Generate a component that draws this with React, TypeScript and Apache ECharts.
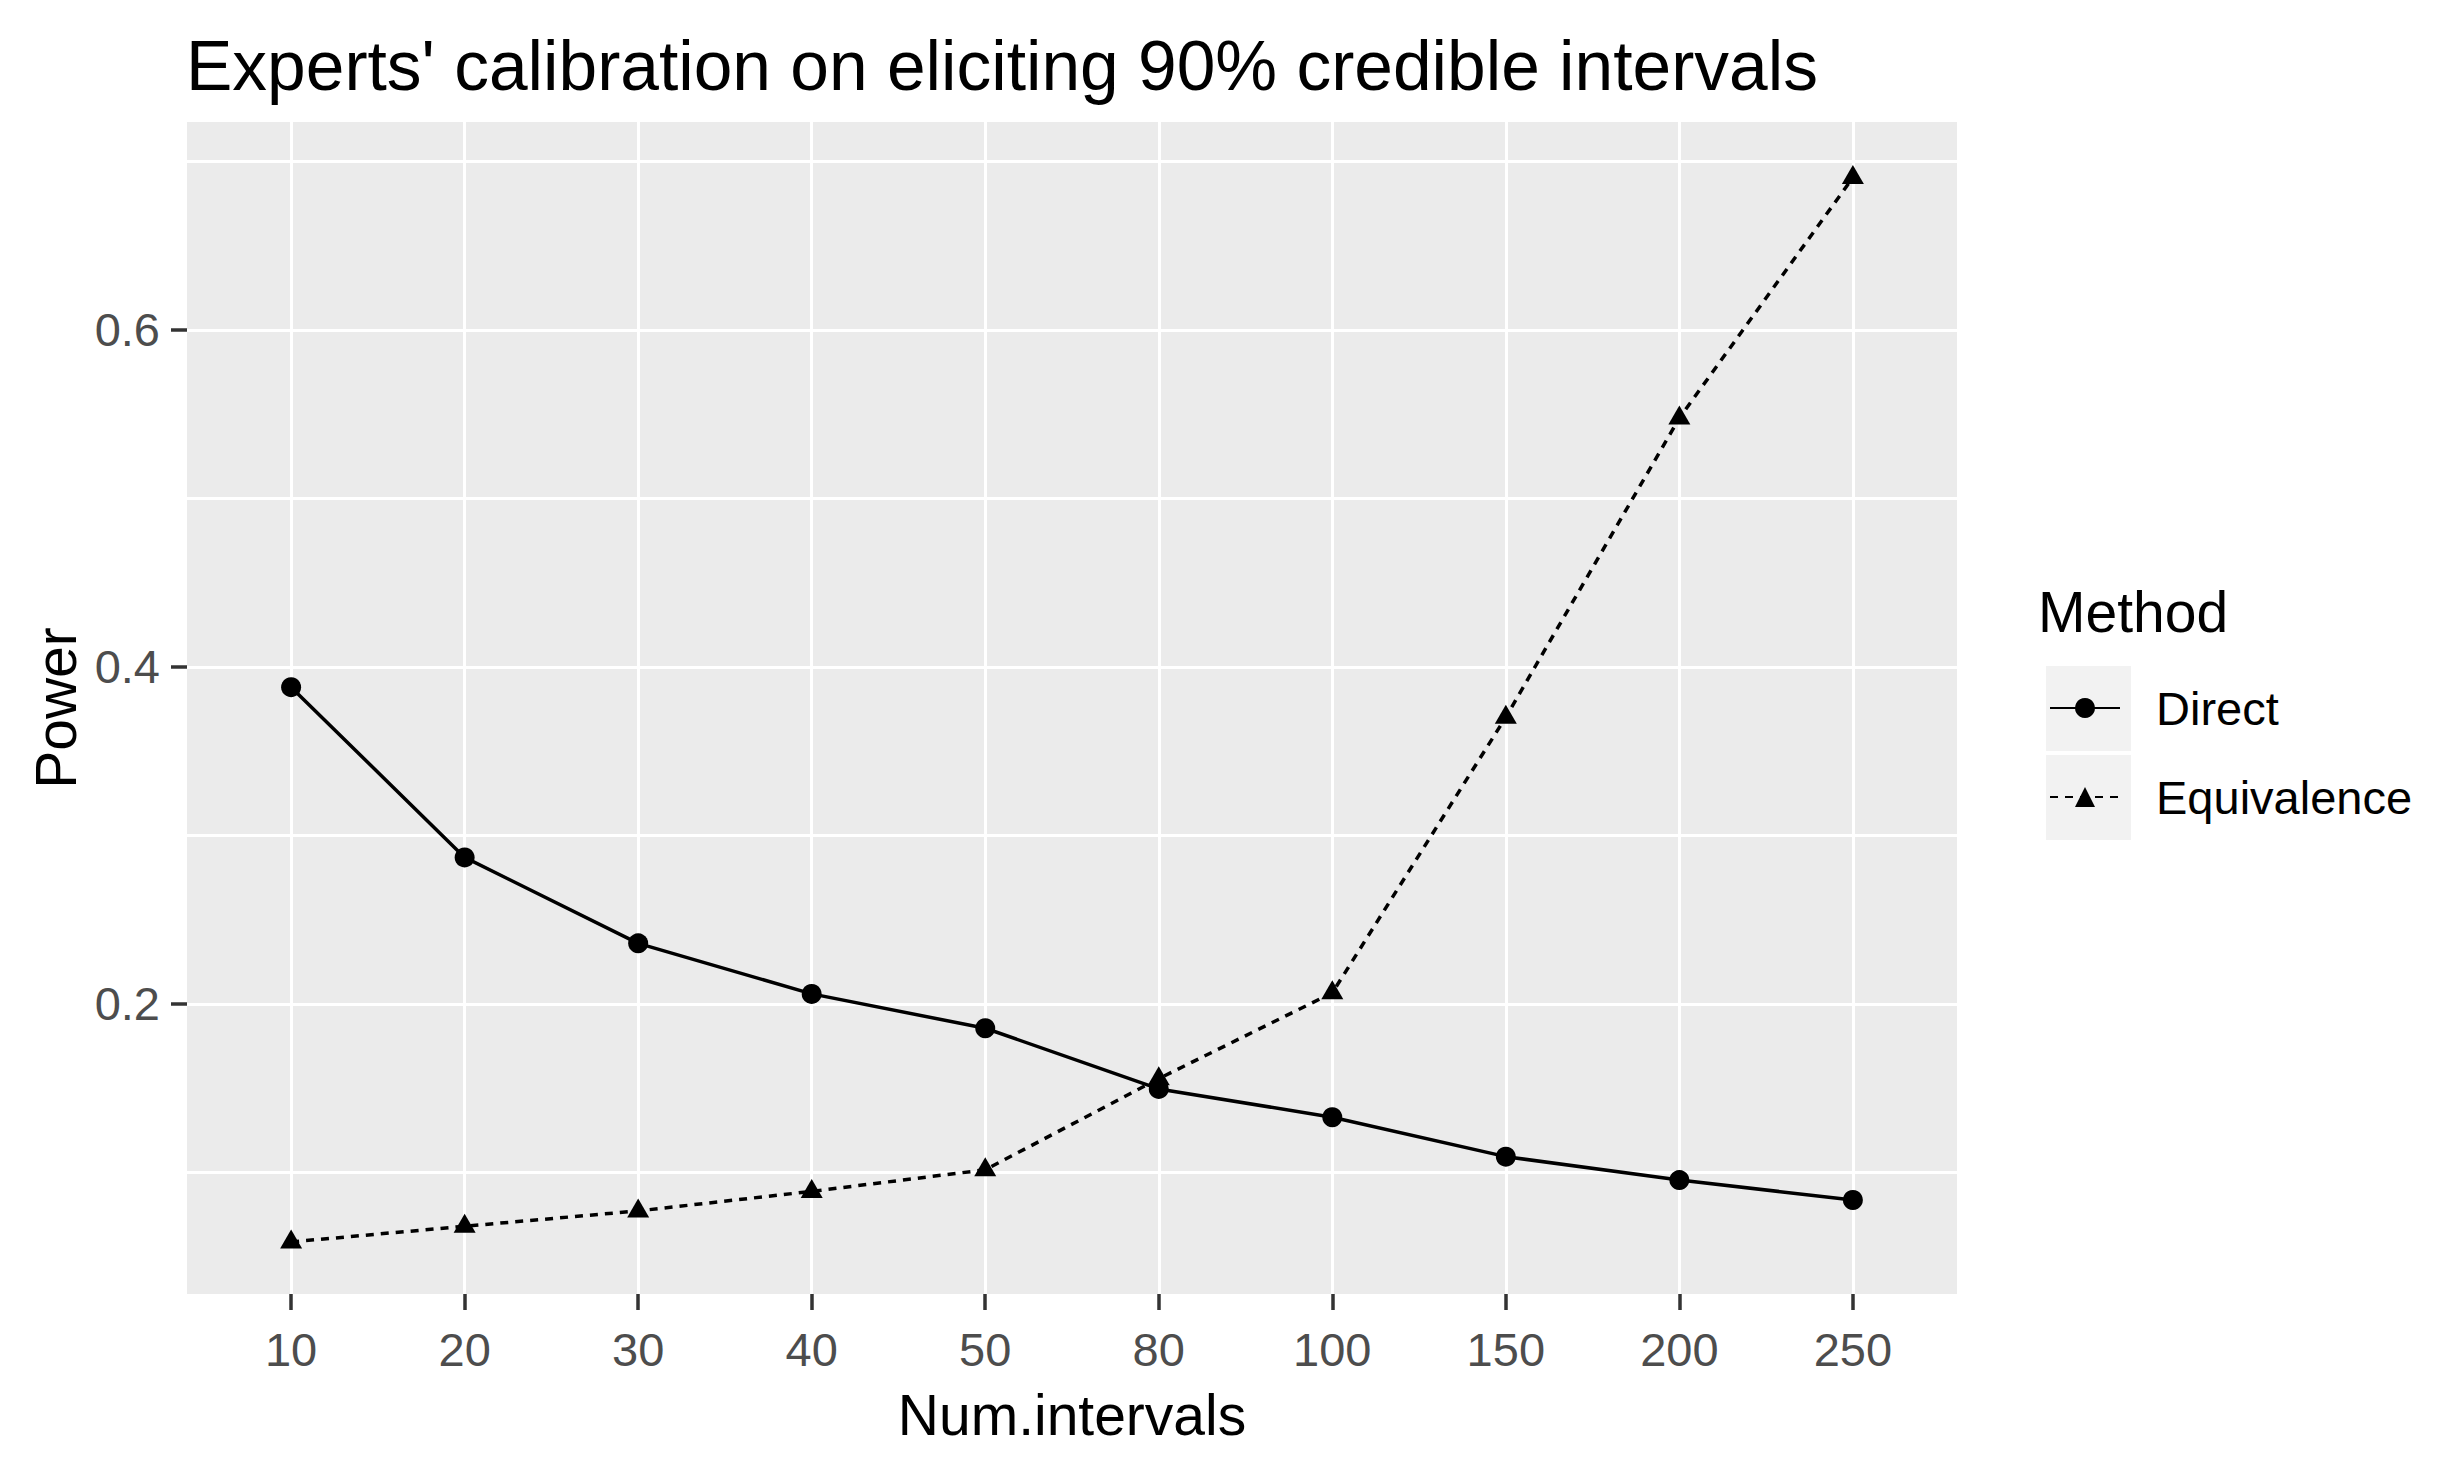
import React, { useEffect, useRef } from 'react';
import * as echarts from 'echarts';

const categories = ['10', '20', '30', '40', '50', '80', '100', '150', '200', '250'];
const directValues = [0.388, 0.287, 0.236, 0.206, 0.1856, 0.1496, 0.1328, 0.1094, 0.0955, 0.0837];
const equivalenceValues = [0.0588, 0.0681, 0.0772, 0.0888, 0.1016, 0.1557, 0.2066, 0.3702, 0.5477, 0.6904];
const yMajorTicks = [0.2, 0.4, 0.6];
const yMinorTicks = [0.1, 0.3, 0.5, 0.7];
const seriesNames = ['Direct', 'Equivalence'];

const FONT = "'Liberation Sans', Arial, sans-serif";

export default function App() {
  const ref = useRef<HTMLDivElement>(null);
  useEffect(() => {
    document.body.style.margin = '0';
    const chart = echarts.init(ref.current!, undefined, { renderer: 'svg' });
    const catIdx = categories.map((_, i) => i);
    const yMin = 0.0279;
    const yMax = 0.7234;
    const option: any = {
      animation: false,
      backgroundColor: '#FFFFFF',
      title: {
        text: "Experts' calibration on eliciting 90% credible intervals",
        left: 186,
        top: 31,
        padding: 0,
        textStyle: { fontSize: 69.5, fontWeight: 'normal', color: '#000000', fontFamily: FONT },
      },
      grid: {
        left: 187, top: 122, width: 1770, height: 1172,
        show: true, backgroundColor: '#EBEBEB', borderWidth: 0, containLabel: false,
      },
      xAxis: {
        type: 'value',
        min: -0.6,
        max: categories.length - 0.4,
        axisLine: { show: false, onZero: false },
        axisTick: { show: true, length: 16, lineStyle: { color: '#333333', width: 3.5 }, customValues: catIdx },
        axisLabel: {
          customValues: catIdx,
          formatter: (v: number) => categories[Math.round(v)] ?? '',
          fontSize: 47, color: '#4D4D4D', fontFamily: FONT, margin: 32,
        },
        splitLine: { show: true, lineStyle: { color: '#FFFFFF', width: 3 } },
      },
      yAxis: [
        {
          type: 'value', min: yMin, max: yMax, position: 'left',
          axisLine: { show: false, onZero: false },
          axisTick: { show: true, length: 16, lineStyle: { color: '#333333', width: 3.5 }, customValues: yMajorTicks },
          axisLabel: {
            customValues: yMajorTicks,
            formatter: (v: number) => v.toFixed(1),
            fontSize: 47, color: '#4D4D4D', fontFamily: FONT, margin: 27,
            padding: [8, 0, 0, 0],
          },
          splitLine: { show: true, lineStyle: { color: '#FFFFFF', width: 3 } },
        },
        {
          type: 'value', min: yMin, max: yMax,
          axisLine: { show: false, onZero: false },
          axisTick: { show: false, customValues: yMinorTicks },
          axisLabel: { show: false, customValues: yMinorTicks },
          splitLine: { show: true, lineStyle: { color: '#FFFFFF', width: 3 } },
        },
      ],
      legend: {
        orient: 'vertical',
        left: 2049,
        top: 670,
        padding: 0,
        itemWidth: 70,
        itemHeight: 25,
        itemGap: 13,
        selectedMode: false,
        data: seriesNames,
        textStyle: { fontSize: 47, color: '#000000', fontFamily: FONT, lineHeight: 50, padding: [26, 0, 0, 31] },
      },
      graphic: [
        { type: 'rect', z: 0, shape: { x: 2046, y: 666, width: 85, height: 85 }, style: { fill: '#F2F2F2' } },
        { type: 'rect', z: 0, shape: { x: 2046, y: 755, width: 85, height: 85 }, style: { fill: '#F2F2F2' } },
        {
          type: 'text', x: 1072, y: 1415,
          style: { text: 'Num.intervals', fontSize: 57, fill: '#000000', fontFamily: FONT, align: 'center', verticalAlign: 'middle' },
        },
        {
          type: 'text', x: 56, y: 708, rotation: Math.PI / 2,
          style: { text: 'Power', fontSize: 57, fill: '#000000', fontFamily: FONT, align: 'center', verticalAlign: 'middle' },
        },
        {
          type: 'text', x: 2038, y: 612,
          style: { text: 'Method', fontSize: 57, fill: '#000000', fontFamily: FONT, align: 'left', verticalAlign: 'middle' },
        },
      ],
      series: [
        {
          name: seriesNames[0],
          type: 'line',
          xAxisIndex: 0, yAxisIndex: 0,
          data: directValues.map((v, i) => [i, v]),
          symbol: 'circle',
          symbolSize: 20,
          itemStyle: { color: '#000000' },
          lineStyle: { color: '#000000', width: 3.5, type: 'solid' },
          z: 3,
        },
        {
          name: seriesNames[1],
          type: 'line',
          xAxisIndex: 0, yAxisIndex: 0,
          data: equivalenceValues.map((v, i) => [i, v]),
          symbol: 'triangle',
          symbolSize: [22, 19],
          symbolOffset: [0, -3],
          itemStyle: { color: '#000000' },
          lineStyle: { color: '#000000', width: 3.5, type: [8, 7] },
          z: 3,
        },
      ],
    };
    chart.setOption(option);
    return () => chart.dispose();
  }, []);
  return <div ref={ref} style={{ width: 2447, height: 1473 }} />;
}
